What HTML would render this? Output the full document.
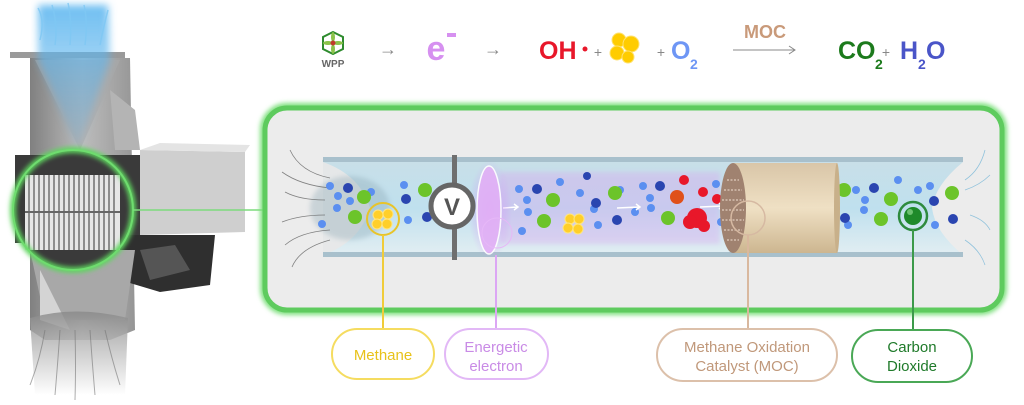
<!DOCTYPE html>
<html><head><meta charset="utf-8"><style>
html,body{margin:0;padding:0;background:#fff;}
svg{display:block;font-family:"Liberation Sans",sans-serif;}
</style></head><body>
<svg width="1024" height="405" viewBox="0 0 1024 405" xmlns="http://www.w3.org/2000/svg">
<defs>
<linearGradient id="blueG" x1="0" y1="0" x2="0" y2="1"><stop offset="0" stop-color="#5fb8f0" stop-opacity="0.9"/><stop offset="1" stop-color="#5fb0e8" stop-opacity="0.15"/></linearGradient>
<linearGradient id="tubeG" x1="0" y1="0" x2="0" y2="1"><stop offset="0" stop-color="#c8dfe8"/><stop offset="0.5" stop-color="#bfe0ee"/><stop offset="1" stop-color="#e2eef2"/></linearGradient>
<linearGradient id="colG" x1="0" y1="0" x2="1" y2="0"><stop offset="0" stop-color="#808080"/><stop offset="0.5" stop-color="#bdbdbd"/><stop offset="1" stop-color="#959595"/></linearGradient>
<linearGradient id="cylG" x1="0" y1="0" x2="0" y2="1"><stop offset="0" stop-color="#d9c6a8"/><stop offset="0.5" stop-color="#efe0c4"/><stop offset="1" stop-color="#cdb690"/></linearGradient>
<linearGradient id="grayBot" x1="0" y1="0" x2="0" y2="1"><stop offset="0" stop-color="#888"/><stop offset="1" stop-color="#fff"/></linearGradient>
<radialGradient id="purp" cx="0.5" cy="0.5" r="0.5"><stop offset="0" stop-color="#d58af5" stop-opacity="0.7"/><stop offset="1" stop-color="#d58af5" stop-opacity="0"/></radialGradient>
<filter id="glow"><feGaussianBlur stdDeviation="2.5"/></filter>
<filter id="blur4"><feGaussianBlur stdDeviation="4"/></filter>
</defs>

<!-- LEFT MACHINE -->
<polygon points="30,58 130,58 135,330 110,340 45,340 30,330" fill="url(#colG)"/>
<rect x="10" y="52" width="115" height="6" fill="#9a9a9a"/>
<polygon points="35,60 120,60 80,150" fill="#aaa" opacity="0.6"/>
<path d="M38,5 L108,5 L110,60 L78,150 L38,60 Z" fill="url(#blueG)" filter="url(#blur4)"/>
<g stroke="#7fc8f4" stroke-width="1.5" fill="none" opacity="0.8">
<path d="M40,40 Q45,20 38,8"/><path d="M55,45 Q58,25 52,5"/><path d="M70,45 Q72,20 68,3"/><path d="M85,45 Q88,22 84,5"/><path d="M100,45 Q104,25 108,10"/>
</g>
<polygon points="110,90 135,110 140,150 115,150" fill="#b4b4b4"/>
<rect x="15" y="155" width="125" height="88" fill="#3a3a3a"/>
<polygon points="140,150 245,152 245,232 140,235" fill="#cfcfcf"/>
<polygon points="140,150 160,143 250,145 245,152" fill="#e4e4e4"/>
<polygon points="110,235 215,235 210,285 160,292 120,280" fill="#2f2f2f"/>
<polygon points="140,250 175,245 190,270 150,280" fill="#555"/>
<polygon points="30,250 135,250 125,320 45,320" fill="#a8a8a8"/>
<polygon points="40,270 70,330 40,320" fill="#d4d4d4"/>
<path d="M30,318 Q75,305 128,318 L125,395 L35,395 Z" fill="url(#grayBot)" opacity="0.8"/>
<g stroke="#777" stroke-width="1" fill="none" opacity="0.6">
<path d="M45,330 Q40,360 30,385"/><path d="M60,330 Q58,360 55,395"/><path d="M75,330 Q76,365 75,400"/><path d="M90,330 Q92,360 95,395"/><path d="M105,330 Q112,360 120,385"/>
</g>
<circle cx="73" cy="210" r="60" fill="#3a3a3a"/>
<g>
<rect x="25" y="175" width="95" height="75" fill="#e6e6e6"/>
<g stroke="#777" stroke-width="1.6">
<line x1="29" y1="175" x2="29" y2="250"/><line x1="34" y1="175" x2="34" y2="250"/><line x1="39" y1="175" x2="39" y2="250"/><line x1="44" y1="175" x2="44" y2="250"/><line x1="49" y1="175" x2="49" y2="250"/><line x1="54" y1="175" x2="54" y2="250"/><line x1="59" y1="175" x2="59" y2="250"/><line x1="64" y1="175" x2="64" y2="250"/><line x1="69" y1="175" x2="69" y2="250"/><line x1="74" y1="175" x2="74" y2="250"/><line x1="79" y1="175" x2="79" y2="250"/><line x1="84" y1="175" x2="84" y2="250"/><line x1="89" y1="175" x2="89" y2="250"/><line x1="94" y1="175" x2="94" y2="250"/><line x1="99" y1="175" x2="99" y2="250"/><line x1="104" y1="175" x2="104" y2="250"/><line x1="109" y1="175" x2="109" y2="250"/><line x1="114" y1="175" x2="114" y2="250"/>
</g>
<line x1="25" y1="212" x2="120" y2="212" stroke="#666" stroke-width="2"/>
</g>
<circle cx="73" cy="210" r="60" fill="none" stroke="#5fd65f" stroke-width="6" filter="url(#glow)"/>
<circle cx="73" cy="210" r="60" fill="none" stroke="#6fdc6f" stroke-width="2"/>
<line x1="133" y1="210" x2="265" y2="210" stroke="#66d466" stroke-width="4" filter="url(#glow)"/>
<line x1="133" y1="210" x2="265" y2="210" stroke="#7ddc7d" stroke-width="1.5"/>

<!-- TOP FORMULA -->
<polygon points="333,32 343,37 343,49 333,54 323,49 323,37" fill="#fff" stroke="#2e8b2e" stroke-width="2"/>
<g fill="#8bc34a"><ellipse cx="333" cy="37" rx="2" ry="5"/><ellipse cx="333" cy="49" rx="2" ry="5"/><ellipse cx="328" cy="43" rx="5" ry="2"/><ellipse cx="338" cy="43" rx="5" ry="2"/></g>
<circle cx="333" cy="43" r="2.5" fill="#c0392b"/>
<text x="333" y="67" font-size="10" font-weight="bold" fill="#666" text-anchor="middle">WPP</text>
<text x="388" y="55" font-size="18" fill="#888" text-anchor="middle">→</text>
<text x="436" y="60" font-size="34" font-weight="bold" fill="#d690f0" text-anchor="middle">e</text>
<rect x="447" y="33" width="9" height="4" fill="#d690f0"/>
<text x="493" y="55" font-size="18" fill="#888" text-anchor="middle">→</text>
<text x="539" y="59" font-size="25" font-weight="bold" fill="#e8172a">OH</text>
<circle cx="585" cy="49" r="2.5" fill="#e8172a"/>
<text x="598" y="57" font-size="14" fill="#888" text-anchor="middle">+</text>
<g fill="#ffcc00" stroke="#ffe270" stroke-width="1"><circle cx="619" cy="40" r="7"/><circle cx="631" cy="44" r="8"/><circle cx="617" cy="53" r="7"/><circle cx="628" cy="57" r="6"/></g>
<text x="661" y="57" font-size="14" fill="#888" text-anchor="middle">+</text>
<text x="671" y="59" font-size="25" font-weight="bold" fill="#6e96f5">O</text>
<text x="690" y="69" font-size="14" font-weight="bold" fill="#6e96f5">2</text>
<text x="765" y="38" font-size="18" font-weight="bold" fill="#c99a7a" text-anchor="middle">MOC</text>
<line x1="733" y1="50" x2="795" y2="50" stroke="#888" stroke-width="1"/>
<path d="M789,46 L795,50 L789,54" fill="none" stroke="#888" stroke-width="1"/>
<text x="838" y="59" font-size="25" font-weight="bold" fill="#1c7a1c">CO</text>
<text x="875" y="69" font-size="14" font-weight="bold" fill="#1c7a1c">2</text>
<text x="886" y="57" font-size="14" fill="#888" text-anchor="middle">+</text>
<text x="900" y="59" font-size="25" font-weight="bold" fill="#4a55c8">H</text>
<text x="918" y="69" font-size="14" font-weight="bold" fill="#4a55c8">2</text>
<text x="926" y="59" font-size="25" font-weight="bold" fill="#4a55c8">O</text>

<!-- GREEN PANEL -->
<rect x="265" y="108" width="737" height="202" rx="22" fill="none" stroke="#7ee07e" stroke-width="10" filter="url(#glow)"/>
<rect x="265" y="108" width="737" height="202" rx="22" fill="#ececec" stroke="#5ecb5e" stroke-width="5"/>

<!-- TUBE -->
<rect x="323" y="162" width="640" height="93" fill="url(#tubeG)"/>
<path d="M323,162 Q360,175 370,208 Q360,242 323,255 Z" fill="#e8e8e8" opacity="0.9"/>
<ellipse cx="350" cy="208" rx="40" ry="32" fill="#8aa6b2" opacity="0.35" filter="url(#glow)"/>
<rect x="500" y="172" width="220" height="72" fill="#dba0f0" opacity="0.35" filter="url(#glow)"/>
<path d="M963,162 Q935,185 932,208 Q935,232 963,255 Z" fill="#ececec"/>
<rect x="323" y="157" width="640" height="5" fill="#a8c0cc"/>
<rect x="323" y="252" width="640" height="5" fill="#a8c0cc"/>
<g stroke="#555" stroke-width="0.8" fill="none" opacity="0.7">
<path d="M290,150 Q300,172 330,178"/><path d="M282,172 Q300,185 330,188"/><path d="M285,192 Q300,200 325,200"/><path d="M282,222 Q300,215 325,215"/><path d="M285,245 Q300,232 330,230"/><path d="M292,267 Q300,248 330,240"/>
</g>
<g stroke="#7ab8d8" stroke-width="0.8" fill="none" opacity="0.8">
<path d="M965,180 Q980,170 985,150"/><path d="M965,190 Q980,185 990,175"/><path d="M970,215 Q985,220 990,230"/><path d="M965,240 Q980,250 985,265"/>
</g>

<!-- particles -->
<g fill="#5b8ff0">
<circle cx="330" cy="186" r="4"/><circle cx="338" cy="196" r="4"/><circle cx="350" cy="201" r="4"/><circle cx="337" cy="208" r="4"/><circle cx="322" cy="224" r="4"/><circle cx="371" cy="192" r="4"/><circle cx="404" cy="185" r="4"/><circle cx="408" cy="220" r="4"/><circle cx="519" cy="189" r="4"/><circle cx="527" cy="200" r="4"/><circle cx="528" cy="212" r="4"/><circle cx="522" cy="231" r="4"/><circle cx="560" cy="182" r="4"/><circle cx="580" cy="193" r="4"/><circle cx="598" cy="225" r="4"/><circle cx="594" cy="209" r="4"/><circle cx="620" cy="190" r="4"/><circle cx="635" cy="212" r="4"/><circle cx="643" cy="186" r="4"/><circle cx="650" cy="198" r="4"/><circle cx="651" cy="208" r="4"/><circle cx="716" cy="184" r="4"/><circle cx="721" cy="222" r="4"/><circle cx="856" cy="190" r="4"/><circle cx="865" cy="200" r="4"/><circle cx="864" cy="210" r="4"/><circle cx="898" cy="180" r="4"/><circle cx="918" cy="190" r="4"/><circle cx="930" cy="186" r="4"/><circle cx="935" cy="225" r="4"/><circle cx="848" cy="225" r="4"/>
</g>
<g fill="#2a45b0">
<circle cx="348" cy="188" r="5"/><circle cx="406" cy="199" r="5"/><circle cx="427" cy="217" r="5"/><circle cx="537" cy="189" r="5"/><circle cx="596" cy="203" r="5"/><circle cx="617" cy="220" r="5"/><circle cx="660" cy="186" r="5"/><circle cx="587" cy="176" r="4"/><circle cx="874" cy="188" r="5"/><circle cx="934" cy="201" r="5"/><circle cx="845" cy="218" r="5"/><circle cx="953" cy="219" r="5"/>
</g>
<g fill="#6cc42a">
<circle cx="364" cy="197" r="7"/><circle cx="355" cy="217" r="7"/><circle cx="425" cy="190" r="7"/><circle cx="553" cy="200" r="7"/><circle cx="544" cy="221" r="7"/><circle cx="615" cy="193" r="7"/><circle cx="668" cy="218" r="7"/><circle cx="844" cy="190" r="7"/><circle cx="891" cy="199" r="7"/><circle cx="881" cy="219" r="7"/><circle cx="952" cy="193" r="7"/>
</g>
<g fill="#e8172a"><circle cx="684" cy="180" r="5"/><circle cx="703" cy="192" r="5"/><circle cx="717" cy="199" r="5"/><circle cx="697" cy="218" r="10"/><circle cx="690" cy="222" r="7"/><circle cx="704" cy="226" r="6"/></g>
<circle cx="677" cy="197" r="7" fill="#e0501a"/>
<g fill="#ffcf2a" stroke="#ffe680" stroke-width="1"><circle cx="570" cy="219" r="5"/><circle cx="579" cy="219" r="5"/><circle cx="568" cy="228" r="5"/><circle cx="578" cy="229" r="5"/></g>
<g stroke="#fff" stroke-width="1.5" fill="none"><path d="M503,208 L518,207 M514,204 L518,207 L514,210"/><path d="M617,208 L640,207 M636,204 L640,207 L636,210"/><path d="M700,207 L723,206 M719,203 L723,206 L719,209"/></g>

<!-- purple ellipse -->
<ellipse cx="490" cy="210" rx="22" ry="50" fill="url(#purp)"/>
<ellipse cx="489" cy="210" rx="12" ry="44" fill="#e2b0f6" stroke="#fff" stroke-width="1.5" opacity="0.9"/>
<circle cx="497" cy="233" r="15" fill="none" stroke="#e6b8f7" stroke-width="1"/>

<!-- V meter -->
<rect x="452" y="155" width="5" height="105" fill="#6f6f6f"/>
<circle cx="452" cy="206" r="21" fill="#fff" stroke="#666" stroke-width="5"/>
<text x="452" y="215" font-size="24" font-weight="bold" fill="#555" text-anchor="middle">V</text>

<!-- methane ring -->
<circle cx="383" cy="219" r="16" fill="none" stroke="#e8c42a" stroke-width="2"/>
<g fill="#ffcf2a" stroke="#ffe680" stroke-width="1"><circle cx="378" cy="215" r="5"/><circle cx="388" cy="214" r="5"/><circle cx="377" cy="224" r="5"/><circle cx="387" cy="224" r="5"/></g>

<!-- MOC cylinder -->
<rect x="733" y="163" width="104" height="90" fill="url(#cylG)"/>
<ellipse cx="837" cy="208" rx="3" ry="45" fill="#c8b08a"/>
<ellipse cx="733" cy="208" rx="13" ry="45" fill="#a08270"/>
<g stroke="#d6c0b0" stroke-width="1.5" stroke-dasharray="2 1.5"><line x1="727" y1="180" x2="739" y2="180"/><line x1="724" y1="190" x2="742" y2="190"/><line x1="722" y1="200" x2="744" y2="200"/><line x1="722" y1="210" x2="744" y2="210"/><line x1="722" y1="220" x2="744" y2="220"/><line x1="724" y1="230" x2="742" y2="230"/><line x1="727" y1="240" x2="739" y2="240"/></g>
<circle cx="748" cy="218" r="17" fill="none" stroke="#d6b9a2" stroke-width="1.5"/>

<!-- CO2 -->
<circle cx="913" cy="216" r="14" fill="none" stroke="#2e8b3e" stroke-width="2.5"/>
<circle cx="913" cy="216" r="9" fill="#1f8a2a"/>
<circle cx="910" cy="212" r="3" fill="#8fd88f" opacity="0.7"/>

<!-- connector lines -->
<line x1="383" y1="235" x2="383" y2="328" stroke="#f0cc3a" stroke-width="2"/>
<line x1="496" y1="255" x2="496" y2="328" stroke="#dca6f4" stroke-width="2"/>
<line x1="748" y1="235" x2="748" y2="328" stroke="#d9b89e" stroke-width="2"/>
<line x1="913" y1="230" x2="913" y2="330" stroke="#3c9a4a" stroke-width="2"/>

<!-- label pills -->
<rect x="332" y="329" width="102" height="50" rx="25" fill="#fff" stroke="#f5dc60" stroke-width="2"/>
<text x="383" y="360" font-size="15" fill="#e8c21a" text-anchor="middle">Methane</text>
<rect x="445" y="329" width="103" height="50" rx="25" fill="#fff" stroke="#e2b8f6" stroke-width="2"/>
<text x="496" y="352" font-size="15" fill="#c98be6" text-anchor="middle">Energetic</text>
<text x="496" y="371" font-size="15" fill="#c98be6" text-anchor="middle">electron</text>
<rect x="657" y="329" width="180" height="52" rx="26" fill="#fff" stroke="#dcc0aa" stroke-width="2"/>
<text x="747" y="352" font-size="15" fill="#c0987a" text-anchor="middle">Methane Oxidation</text>
<text x="747" y="371" font-size="15" fill="#c0987a" text-anchor="middle">Catalyst (MOC)</text>
<rect x="852" y="330" width="120" height="52" rx="26" fill="#fff" stroke="#4aa856" stroke-width="2"/>
<text x="912" y="352" font-size="15" fill="#1f7a2a" text-anchor="middle">Carbon</text>
<text x="912" y="371" font-size="15" fill="#1f7a2a" text-anchor="middle">Dioxide</text>
</svg>
</body></html>
